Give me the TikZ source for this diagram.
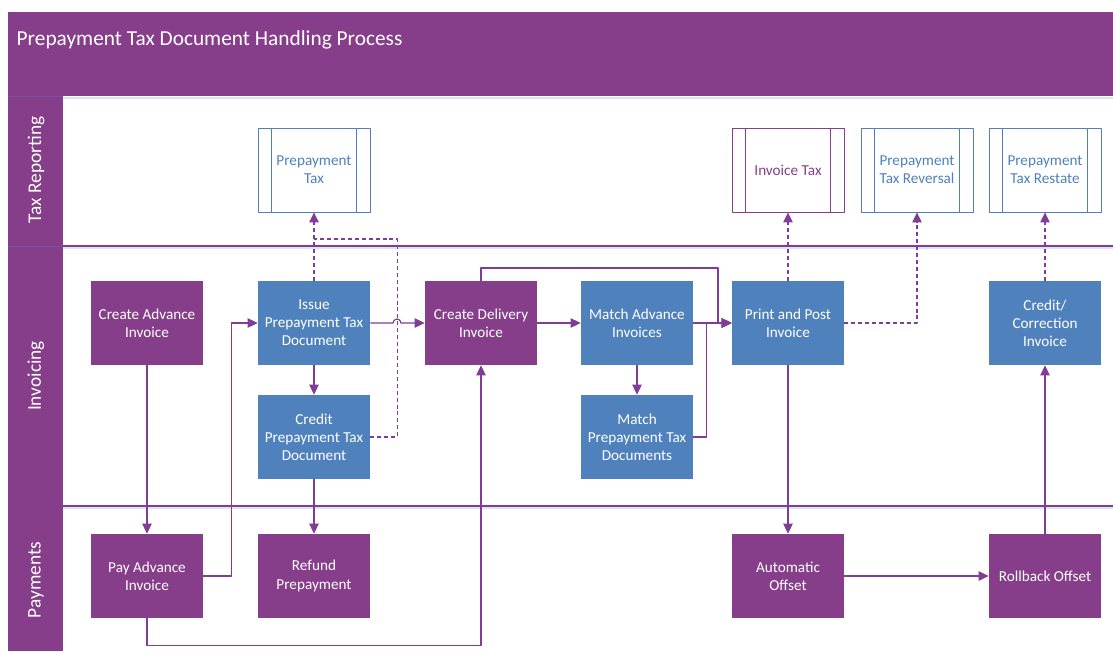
\documentclass[tikz,border=0pt]{standalone}
\usepackage{fontspec}
\setmainfont{Carlito}
\usetikzlibrary{arrows.meta}
\definecolor{flowpurple}{RGB}{135,62,138}
\definecolor{flowblue}{RGB}{79,129,189}
\definecolor{linepurple}{RGB}{128,60,150}
\definecolor{shadeblue}{RGB}{218,228,242}
\definecolor{stripline}{RGB}{120,80,160}
\begin{document}
\begin{tikzpicture}[x=0.75pt, y=-0.75pt, font=\fontsize{11.4}{13.6}\selectfont, line join=round, >={Triangle[length=7.5pt,width=7pt]},
	procbox/.style={fill=#1, text=white, minimum width=84pt, minimum height=63pt, align=center, inner sep=1pt},
	docbox/.style={draw=#1, text=#1, fill=white, line width=0.6pt, minimum width=84pt, minimum height=63pt, align=center, inner sep=1pt,
		path picture={\draw[#1, line width=0.6pt] ([xshift=10pt]path picture bounding box.north west) -- ([xshift=10pt]path picture bounding box.south west);
			\draw[#1, line width=0.6pt] ([xshift=-10pt]path picture bounding box.north east) -- ([xshift=-10pt]path picture bounding box.south east);}},
	lanelabel/.style={rotate=90, text=white, font=\fontsize{14.5}{17}\selectfont},
	flow/.style={linepurple, line width=0.9pt},
	tax/.style={flow, dash pattern=on 3pt off 2.2pt}]
	\useasboundingbox (0,0) rectangle (1113,651);
	%%%%%%%%%%%%%%%%%%%%%%%%%%%%%%%%%
	% pool and lanes
	\fill[flowpurple] (8,12) rectangle (1113,96);
	\fill[flowpurple] (8,96) rectangle (63,651);
	\draw[shadeblue, line width=2pt] (63,98) -- (1113,98);
	\draw[shadeblue, line width=2pt] (63,248) -- (1113,248);
	\draw[shadeblue, line width=2pt] (63,508) -- (1113,508);
	\draw[stripline, line width=1.2pt] (8,96.5) -- (63,96.5);
	\draw[stripline, line width=1.2pt] (8,246.5) -- (63,246.5);
	\draw[linepurple, line width=0.8pt] (63,246) -- (1113,246);
	\draw[linepurple, line width=0.8pt] (63,506) -- (1113,506);
	\node[anchor=west, text=white, font=\fontsize{16}{19}\selectfont] (title) at (12,40) {Prepayment Tax Document Handling Process};
	\node[lanelabel] (laneTax) at (36,170) {Tax Reporting};
	\node[lanelabel] (laneInv) at (36,376) {Invoicing};
	\node[lanelabel] (lanePay) at (36,580) {Payments};
	%%%%%%%%%%%%%%%%%%%%%%%%%%%%%%%%%
	% tax reporting
	\node[docbox=flowblue] (ptx) at (314,170) {Prepayment\\Tax};
	\node[docbox=flowpurple] (itx) at (788,170) {Invoice Tax};
	\node[docbox=flowblue] (ptr) at (917,170) {Prepayment\\Tax Reversal};
	\node[docbox=flowblue] (pts) at (1045,170) {Prepayment\\Tax Restate};
	% invoicing
	\node[procbox=flowpurple] (cai) at (147,323) {Create Advance\\Invoice};
	\node[procbox=flowblue] (ipt) at (314,323) {Issue\\Prepayment Tax\\Document};
	\node[procbox=flowpurple] (cdi) at (481,323) {Create Delivery\\Invoice};
	\node[procbox=flowblue] (mai) at (637,323) {Match Advance\\Invoices};
	\node[procbox=flowblue] (ppi) at (788,323) {Print and Post\\Invoice};
	\node[procbox=flowblue] (cci) at (1045,323) {Credit/\\Correction\\Invoice};
	\node[procbox=flowblue] (cpt) at (314,437) {Credit\\Prepayment Tax\\Document};
	\node[procbox=flowblue] (mpt) at (637,437) {Match\\Prepayment Tax\\Documents};
	% payments
	\node[procbox=flowpurple] (pai) at (147,576) {Pay Advance\\Invoice};
	\node[procbox=flowpurple] (rfp) at (314,576) {Refund\\Prepayment};
	\node[procbox=flowpurple] (aof) at (788,576) {Automatic\\Offset};
	\node[procbox=flowpurple] (rbo) at (1045,576) {Rollback Offset};
	%%%%%%%%%%%%%%%%%%%%%%%%%%%%%%%%%
	\coordinate (jump) at (393,323);
	\coordinate (merge) at (314,239);
	\coordinate (bypass) at (718,268);
	%%%%%%%%%%%%%%%%%%%%%%%%%%%%%%%%%
	\begin{scope}[tax]
		\draw[->] (ipt.north) -- (ptx.south);
		\draw (cpt.east) -- ++(27,0) |- (merge);
		\draw[->] (ppi.north) -- (itx.south);
		\draw[->] (ppi.east) -| (ptr.south);
		\draw[->] (cci.north) -- (pts.south);
	\end{scope}
	\begin{scope}[flow]
		\draw[->] (cai.south) -- (pai.north);
		\draw[->] (pai.east) -- ++(28,0) |- (ipt.west);
		\draw[->] (pai.south) -- ++(0,27) -| (cdi.south);
		\draw[->] (ipt.east) -- (jump) arc[start angle=180, end angle=0, radius=3pt] -- (cdi.west);
		\draw[->] (ipt.south) -- (cpt.north);
		\draw[->] (cpt.south) -- (rfp.north);
		\draw[->] (cdi.east) -- (mai.west);
		\draw[->] (cdi.north) |- (bypass) |- (ppi.west);
		\draw[->] (mai.east) -- (ppi.west);
		\draw[->] (mai.south) -- (mpt.north);
		\draw[->] (mpt.east) -- ++(13,0) |- (ppi.west);
		\draw[->] (ppi.south) -- (aof.north);
		\draw[->] (aof.east) -- (rbo.west);
		\draw[->] (rbo.north) -- (cci.south);
	\end{scope}
	%%%%%%%%%%%%%%%%%%%%%%%%%%%%%%%%%
\end{tikzpicture}
\end{document}
